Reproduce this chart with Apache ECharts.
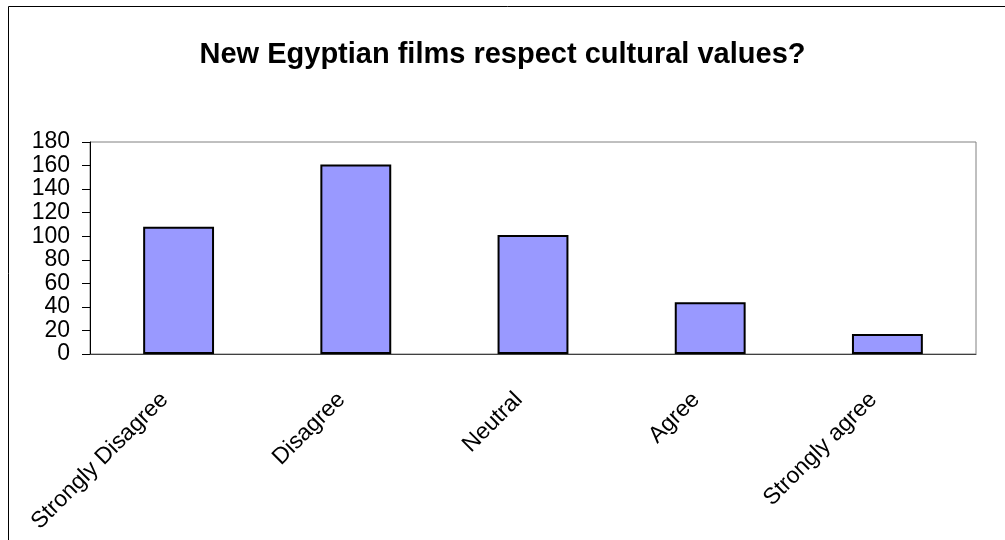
<!DOCTYPE html>
<html>
<head>
<meta charset="utf-8">
<script src="https://cdn.jsdelivr.net/npm/echarts@6/dist/echarts.min.js"></script>
<style>
  html, body { margin: 0; padding: 0; background: #ffffff; }
  #chart { width: 1005px; height: 540px; }
</style>
</head>
<body>
<div id="chart"></div>
<script>
// Survey responses: "New Egyptian films respect cultural values?"
const categories = ['Strongly Disagree', 'Disagree', 'Neutral', 'Agree', 'Strongly agree'];
const responses = [108, 161, 101, 44, 17];
const yTicks = { min: 0, max: 180, step: 20 };
const chartTitle = 'New Egyptian films respect cultural values?';

const FONT = '"Liberation Sans", Arial, sans-serif';

const chart = echarts.init(document.getElementById('chart'), null, { renderer: 'canvas' });

chart.setOption({
  animation: false,
  backgroundColor: '#ffffff',
  title: {
    text: chartTitle,
    left: 'center',
    top: 35,
    textStyle: { fontFamily: FONT, fontSize: 29, fontWeight: 'bold', color: '#000000' }
  },
  graphic: [{
    type: 'rect',
    shape: { x: 8.5, y: 6.5, width: 1010, height: 560 },
    style: { fill: 'none', stroke: '#000000', lineWidth: 1 },
    silent: true,
    z: 0
  }],
  grid: {
    left: 90, top: 142, right: 29, bottom: 186,
    show: true,
    borderColor: '#808080',
    borderWidth: 1,
    backgroundColor: '#ffffff'
  },
  xAxis: {
    type: 'category',
    data: categories,
    axisLine: { show: true, lineStyle: { color: '#404040', width: 1 } },
    axisTick: { show: false },
    axisLabel: {
      rotate: 45,
      margin: 28,
      padding: [0, 20, 0, 0],
      interval: 0,
      fontFamily: FONT,
      fontSize: 23,
      color: '#000000'
    },
    splitLine: { show: false }
  },
  yAxis: {
    type: 'value',
    min: yTicks.min,
    max: yTicks.max,
    interval: yTicks.step,
    axisLine: { show: true, lineStyle: { color: '#000000', width: 1 } },
    axisTick: { show: true, inside: false, length: 8, lineStyle: { color: '#000000' } },
    axisLabel: {
      margin: 20,
      fontFamily: FONT,
      fontSize: 23,
      color: '#000000',
      showMinLabel: true,
      showMaxLabel: true,
      hideOverlap: false
    },
    splitLine: { show: false }
  },
  series: [{
    type: 'bar',
    data: responses,
    barCategoryGap: '60%',
    itemStyle: { color: '#9999ff', borderColor: '#000000', borderWidth: 2 }
  }]
});
</script>
</body>
</html>
